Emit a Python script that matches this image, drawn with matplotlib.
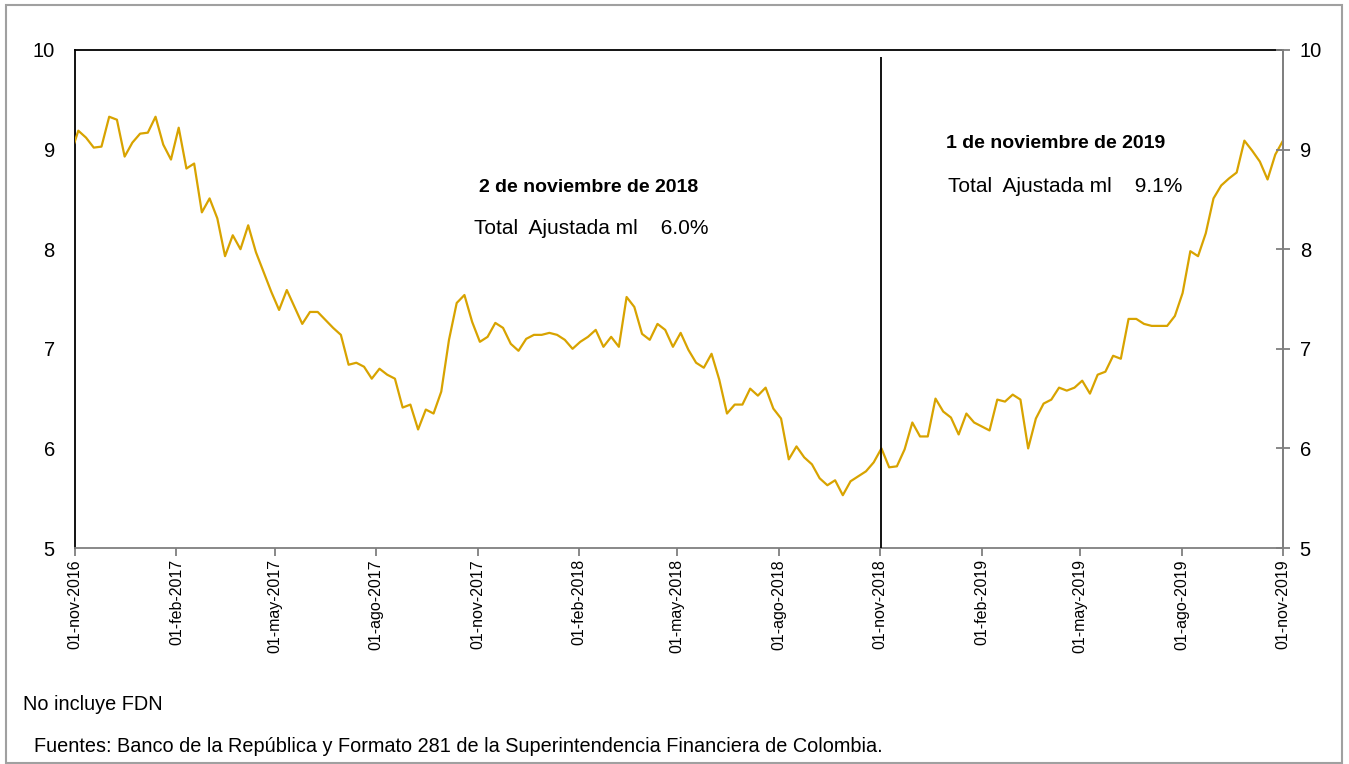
import matplotlib
matplotlib.use("Agg")
import matplotlib.pyplot as plt
import matplotlib.dates as mdates
import numpy as np
import pandas as pd
from matplotlib.patches import Rectangle

plt.rcParams['font.family'] = ['Liberation Sans', 'DejaVu Sans']

# Weekly series (Fridays), first value before axis start (clipped)
start_date = "2016-10-28"
values = [
    8.95,
    9.19, 9.12, 9.02, 9.03, 9.33, 9.30, 8.93, 9.07, 9.16, 9.17,
    9.33, 9.05, 8.90, 9.22, 8.81, 8.86, 8.37, 8.51, 8.31, 7.93,
    8.14, 8.00, 8.24, 7.97, 7.77, 7.57, 7.39, 7.59, 7.42, 7.25,
    7.37, 7.37, 7.29, 7.21, 7.14, 6.84, 6.86, 6.82, 6.70, 6.80,
    6.74, 6.70, 6.41, 6.44, 6.19, 6.39, 6.35, 6.57, 7.09, 7.46,
    7.54, 7.27, 7.07, 7.12, 7.26, 7.21, 7.05, 6.98, 7.10, 7.14,
    7.14, 7.16, 7.14, 7.09, 7.00, 7.07, 7.12, 7.19, 7.02, 7.12,
    7.02, 7.52, 7.42, 7.15, 7.09, 7.25, 7.19, 7.02, 7.16, 6.99,
    6.86, 6.81, 6.95, 6.69, 6.35, 6.44, 6.44, 6.60, 6.53, 6.61,
    6.40, 6.30, 5.89, 6.02, 5.91, 5.84, 5.70, 5.63, 5.68, 5.53,
    5.67, 5.72, 5.77, 5.86, 6.00, 5.81, 5.82, 5.99, 6.26, 6.12,
    6.12, 6.50, 6.37, 6.31, 6.14, 6.35, 6.26, 6.22, 6.18, 6.49,
    6.47, 6.54, 6.49, 6.00, 6.30, 6.45, 6.49, 6.61, 6.58, 6.61,
    6.68, 6.55, 6.74, 6.77, 6.93, 6.90, 7.30, 7.30, 7.25, 7.23,
    7.23, 7.23, 7.33, 7.56, 7.98, 7.93, 8.16, 8.51, 8.64, 8.71,
    8.77, 9.09, 8.99, 8.88, 8.70, 8.95, 9.09,
]
dates = pd.date_range(start_date, periods=len(values), freq="7D")

tick_dates = pd.to_datetime([
    "2016-11-01", "2017-02-01", "2017-05-01", "2017-08-01", "2017-11-01",
    "2018-02-01", "2018-05-01", "2018-08-01", "2018-11-01", "2019-02-01",
    "2019-05-01", "2019-08-01", "2019-11-01",
])
tick_labels = [
    "01-nov-2016", "01-feb-2017", "01-may-2017", "01-ago-2017", "01-nov-2017",
    "01-feb-2018", "01-may-2018", "01-ago-2018", "01-nov-2018", "01-feb-2019",
    "01-may-2019", "01-ago-2019", "01-nov-2019",
]
y_ticks = [5, 6, 7, 8, 9, 10]

marker_date = pd.Timestamp("2018-11-02")
note1_title = "2 de noviembre de 2018"
note1_text = "Total  Ajustada ml    6.0%"
note2_title = "1 de noviembre de 2019"
note2_text = "Total  Ajustada ml    9.1%"
footnote = "No incluye FDN"
source = "Fuentes: Banco de la República y Formato 281 de la Superintendencia Financiera de Colombia."

W, H = 1349, 764
fig = plt.figure(figsize=(W / 100, H / 100), dpi=100)
ax = fig.add_axes([75 / W, 1 - 548 / H, (1283 - 75) / W, (548 - 50) / H])

line_color = "#D8A300"
gray = "#7f7f7f"

ax.plot(dates, values, color=line_color, lw=1.6, clip_on=True, zorder=3)
ax.vlines(marker_date, 5, 9.93, color="black", lw=1.3, zorder=4)

ax.set_xlim(tick_dates[0], tick_dates[-1])
ax.set_ylim(5, 10)
ax.set_xticks(tick_dates)
ax.set_xticklabels(tick_labels, rotation=90, fontsize=11.5)
ax.set_yticks(y_ticks)
ax.set_yticklabels([str(v) for v in y_ticks], fontsize=14.5)

ax2 = ax.twinx()
ax2.set_ylim(5, 10)
ax2.set_yticks(y_ticks)
ax2.set_yticklabels([str(v) for v in y_ticks], fontsize=14.5)
ax2.tick_params(axis='y', direction='inout', length=10, color=gray, width=1.3, pad=7)
for s in ['left', 'top', 'bottom']:
    ax2.spines[s].set_visible(False)
ax2.spines['right'].set_color(gray)
ax2.spines['right'].set_linewidth(1.3)

ax.tick_params(axis='y', left=False, right=False, pad=11)
ax.tick_params(axis='x', direction='out', length=6, color=gray, width=1.3, pad=2)

ax.spines['left'].set_color('black')
ax.spines['left'].set_linewidth(1.3)
ax.spines['top'].set_color('black')
ax.spines['top'].set_linewidth(1.3)
ax.spines['bottom'].set_color(gray)
ax.spines['bottom'].set_linewidth(1.3)
ax.spines['right'].set_color(gray)
ax.spines['right'].set_linewidth(1.3)

def fx(px):
    return px / W

def fy(py):
    return 1 - py / H

fig.text(fx(589), fy(187), note1_title, ha='center', va='center', fontsize=14, fontweight='bold')
fig.text(fx(591), fy(228), note1_text, ha='center', va='center', fontsize=15)
fig.text(fx(1056), fy(143), note2_title, ha='center', va='center', fontsize=14, fontweight='bold')
fig.text(fx(1065), fy(187), note2_text, ha='center', va='center', fontsize=15)

fig.text(fx(23), fy(705), footnote, ha='left', va='center', fontsize=14.3)
fig.text(fx(34), fy(746), source, ha='left', va='center', fontsize=14.3)

fig.patches.append(Rectangle((6 / W, 1 / H), (1342 - 6) / W, (759 - 1) / H,
                             transform=fig.transFigure, fill=False,
                             edgecolor="#a0a0a0", lw=1.5))

fig.savefig("out.png", dpi=100)
